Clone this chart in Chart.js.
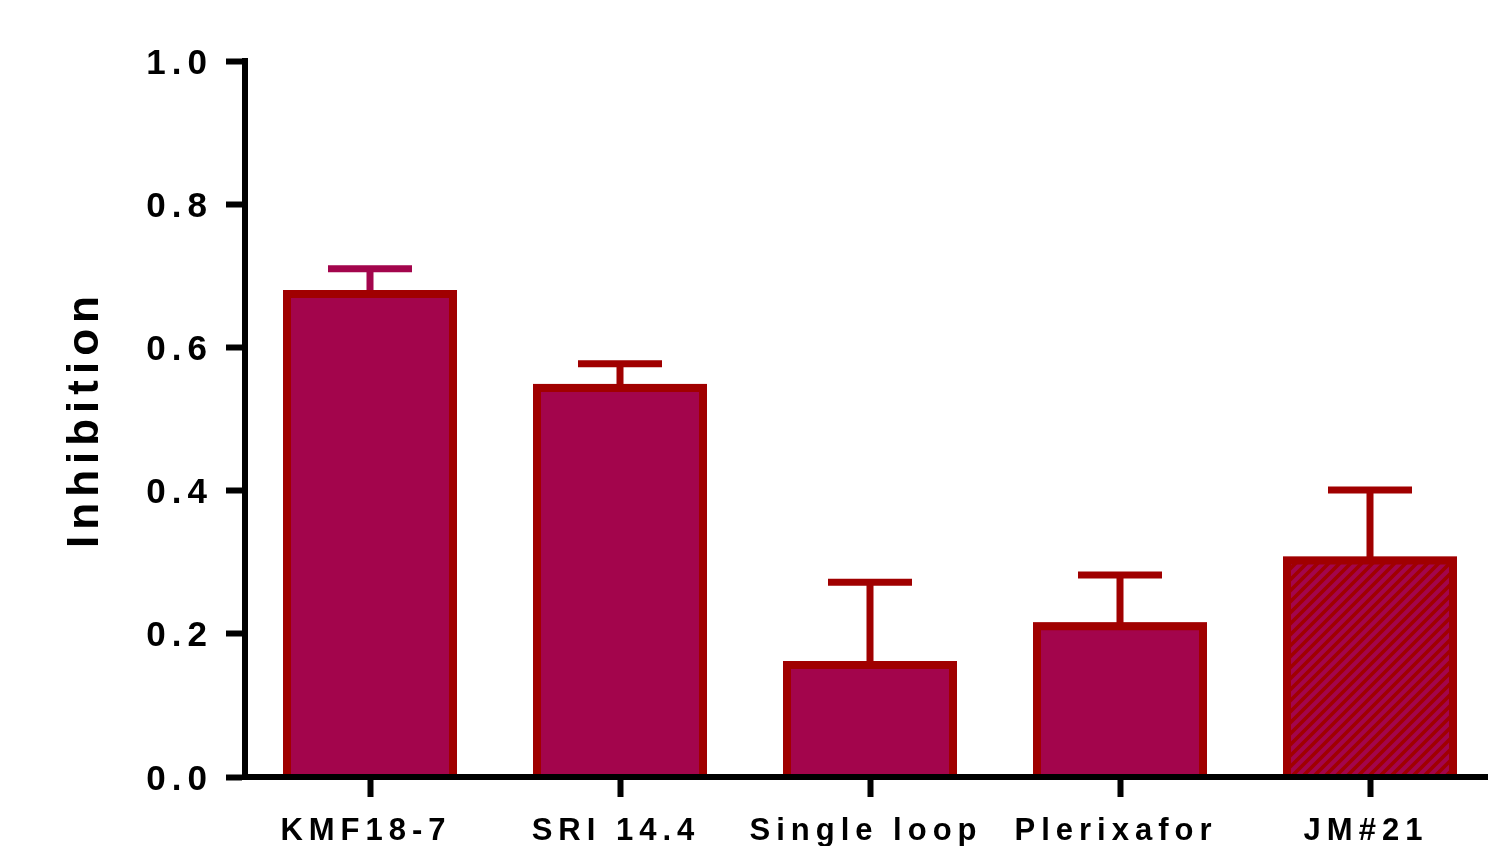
<!DOCTYPE html>
<html>
<head>
<meta charset="utf-8">
<script src="https://cdn.jsdelivr.net/npm/chart.js@4.4.0/dist/chart.umd.min.js"></script>
<style>
  html, body { margin: 0; padding: 0; overflow: hidden; background: #ffffff; }
  #wrap { width: 1495px; height: 846px; }
</style>
</head>
<body>
<div id="wrap"><canvas id="c" width="1495" height="846"></canvas></div>
<script>
// Compounds and their mean inhibition with standard error
const compounds = ['KMF18-7', 'SRI 14.4', 'Single loop', 'Plerixafor', 'JM#21'];
const inhibition = [0.680, 0.549, 0.162, 0.216, 0.308];
const errors = [0.030, 0.028, 0.110, 0.066, 0.093];
const yTickLabels = ['0.0', '0.2', '0.4', '0.6', '0.8', '1.0'];

const FILL = '#a3054c';
const EDGE = '#a00000';
const FONT = '"Liberation Sans", Arial, sans-serif';
const errorColors = [FILL, EDGE, EDGE, EDGE, EDGE];

// diagonal hatch used for the last bar
function hatch(fill, line) {
  const s = 11;
  const c = document.createElement('canvas');
  c.width = s; c.height = s;
  const g = c.getContext('2d');
  g.fillStyle = fill;
  g.fillRect(0, 0, s, s);
  g.strokeStyle = line;
  g.lineWidth = 3.6;
  g.beginPath();
  g.moveTo(0, s); g.lineTo(s, 0);
  g.moveTo(-s / 2, s / 2); g.lineTo(s / 2, -s / 2);
  g.moveTo(s / 2, s * 1.5); g.lineTo(s * 1.5, s / 2);
  g.stroke();
  return g.createPattern(c, 'repeat');
}

// widen glyph spacing for all chart text
const letterSpacingPlugin = {
  id: 'letterSpacing',
  beforeDraw(chart) { chart.ctx.letterSpacing = '6px'; }
};

// error bars (mean + error) and a solid edge-coloured backing under each bar
const errorBarPlugin = {
  id: 'errorBars',
  beforeDatasetsDraw(chart) {
    const { ctx } = chart;
    const y = chart.scales.y;
    const meta = chart.getDatasetMeta(0);
    const capHalf = 42;
    ctx.save();
    ctx.lineWidth = 7;
    ctx.lineCap = 'butt';
    meta.data.forEach((bar, i) => {
      const x = bar.x;
      const yMean = y.getPixelForValue(inhibition[i]);
      const yTop = y.getPixelForValue(inhibition[i] + errors[i]);
      ctx.strokeStyle = errorColors[i];
      ctx.beginPath();
      ctx.moveTo(x, yMean + 4);
      ctx.lineTo(x, yTop);
      ctx.moveTo(x - capHalf, yTop);
      ctx.lineTo(x + capHalf, yTop);
      ctx.stroke();
      const p = bar.getProps(['x', 'y', 'base', 'width'], true);
      ctx.fillStyle = EDGE;
      ctx.fillRect(p.x - p.width / 2, p.y, p.width, p.base - p.y);
    });
    ctx.restore();
  }
};

const ctx = document.getElementById('c').getContext('2d');
const fills = [FILL, FILL, FILL, FILL, hatch(FILL, EDGE)];

new Chart(ctx, {
  type: 'bar',
  data: {
    labels: compounds,
    datasets: [{
      data: inhibition,
      backgroundColor: fills,
      borderColor: EDGE,
      borderWidth: 8,
      borderSkipped: 'start',
      categoryPercentage: 1,
      barPercentage: 0.696
    }]
  },
  options: {
    responsive: false,
    animation: false,
    events: [],
    layout: { padding: { top: 61, right: 0, bottom: 0, left: 0 } },
    plugins: {
      legend: { display: false },
      tooltip: { enabled: false }
    },
    scales: {
      x: {
        offset: true,
        grid: {
          offset: false,
          drawOnChartArea: false,
          drawTicks: true,
          tickLength: 20,
          tickWidth: 6,
          tickColor: '#000000'
        },
        border: { display: true, color: '#000000', width: 6, z: 1 },
        ticks: {
          color: '#000000',
          padding: 16,
          labelOffset: -4,
          maxRotation: 0,
          autoSkip: false,
          font: { family: FONT, size: 31, weight: 'bold', lineHeight: 1.2 }
        },
        afterFit(scale) { scale.height = 69; }
      },
      y: {
        min: 0,
        max: 1,
        grid: {
          drawOnChartArea: false,
          drawTicks: true,
          tickLength: 19,
          tickWidth: 6,
          tickColor: '#000000'
        },
        border: { display: true, color: '#000000', width: 6, z: 1 },
        ticks: {
          stepSize: 0.2,
          color: '#000000',
          padding: 13,
          labelOffset: 3,
          font: { family: FONT, size: 35, weight: 'bold' },
          callback: (v, i) => yTickLabels[i]
        },
        title: {
          display: true,
          text: 'Inhibition',
          color: '#000000',
          padding: { top: 64, bottom: 0 },
          font: { family: FONT, size: 44, weight: 'bold', lineHeight: 1 }
        },
        afterFit(scale) { scale.width = 245; }
      }
    }
  },
  plugins: [letterSpacingPlugin, errorBarPlugin]
});
</script>
</body>
</html>
